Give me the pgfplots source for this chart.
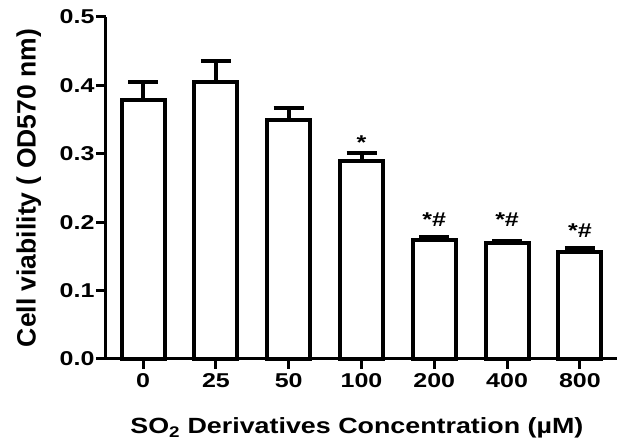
\documentclass[border=0pt]{standalone}
\usepackage{fontspec}
\setmainfont{Liberation Sans}
% the reference's lettering is wider than plain Arial
\newfontfamily\tickfont[FakeStretch=1.25]{Liberation Sans}
\newfontfamily\xlabfont[FakeStretch=1.22]{Liberation Sans}
\usepackage{pgfplots}
\pgfplotsset{compat=1.18}

\begin{document}
\begin{tikzpicture}
  % fix the page to the reference's frame (1px = 1pt)
  \path[use as bounding box] (-106pt,-84pt) rectangle (517pt,359pt);
  \begin{axis}[
    scale only axis,
    width=511pt, height=342pt,
    xmin=-0.51, xmax=6.51,
    ymin=0, ymax=0.5,
    clip=false,
    axis x line*=bottom,
    axis y line*=left,
    axis line style={line width=3pt, black},
    tick align=outside,
    major tick length=10pt,
    tick style={line width=3pt, black},
    xtick={0,1,2,3,4,5,6},
    xticklabels={0,25,50,100,200,400,800},
    ytick={0,0.1,0.2,0.3,0.4,0.5},
    yticklabel style={/pgf/number format/fixed,
      /pgf/number format/fixed zerofill,
      /pgf/number format/precision=1, xshift=2pt},
    /pgf/number format/assume math mode=true,
    ticklabel style={font=\tickfont\fontsize{20}{22}\selectfont\bfseries},
    xticklabel style={yshift=-1pt},
    xlabel={SO\textsubscript{2} Derivatives Concentration (µM)},
    ylabel={Cell viability ( OD570 nm)},
    xlabel style={font=\xlabfont\fontsize{22}{24}\selectfont\bfseries,
      at={(axis description cs:0.491,-0.219)}, anchor=base},
    ylabel style={font=\fontsize{26.5}{28}\selectfont\bfseries,
      at={(axis description cs:-0.151,0.5)}, anchor=center},
    ybar, bar width=0.59,
    error bars/y dir=plus,
    error bars/y explicit,
    error bars/error bar style={line width=4pt, black},
    error bars/error mark options={rotate=90, mark size=15pt, line width=4.5pt, black},
  ]

  \addplot [draw=black, fill=white, line width=4pt]
    coordinates {
      (0,0.378) +- (0,0.027)
      (1,0.405) +- (0,0.031)
      (2,0.349) +- (0,0.018)
      (3,0.289) +- (0,0.012)
      (4,0.174) +- (0,0.004)
      (5,0.170) +- (0,0.002)
      (6,0.156) +- (0,0.006)
    };

  % x axis runs a little past the y axis
  \draw[line width=3pt] (axis cs:-0.64,0) -- (axis cs:-0.51,0);

  % significance marks
  \node[anchor=base, font=\tickfont\fontsize{20}{22}\selectfont\bfseries] at (axis cs:3,0.306) {*};
  \node[anchor=base, font=\tickfont\fontsize{20}{22}\selectfont\bfseries] at (axis cs:4,0.193) {*\#};
  \node[anchor=base, font=\tickfont\fontsize{20}{22}\selectfont\bfseries] at (axis cs:5,0.193) {*\#};
  \node[anchor=base, font=\tickfont\fontsize{20}{22}\selectfont\bfseries] at (axis cs:6,0.178) {*\#};

  \end{axis}
\end{tikzpicture}
\end{document}
